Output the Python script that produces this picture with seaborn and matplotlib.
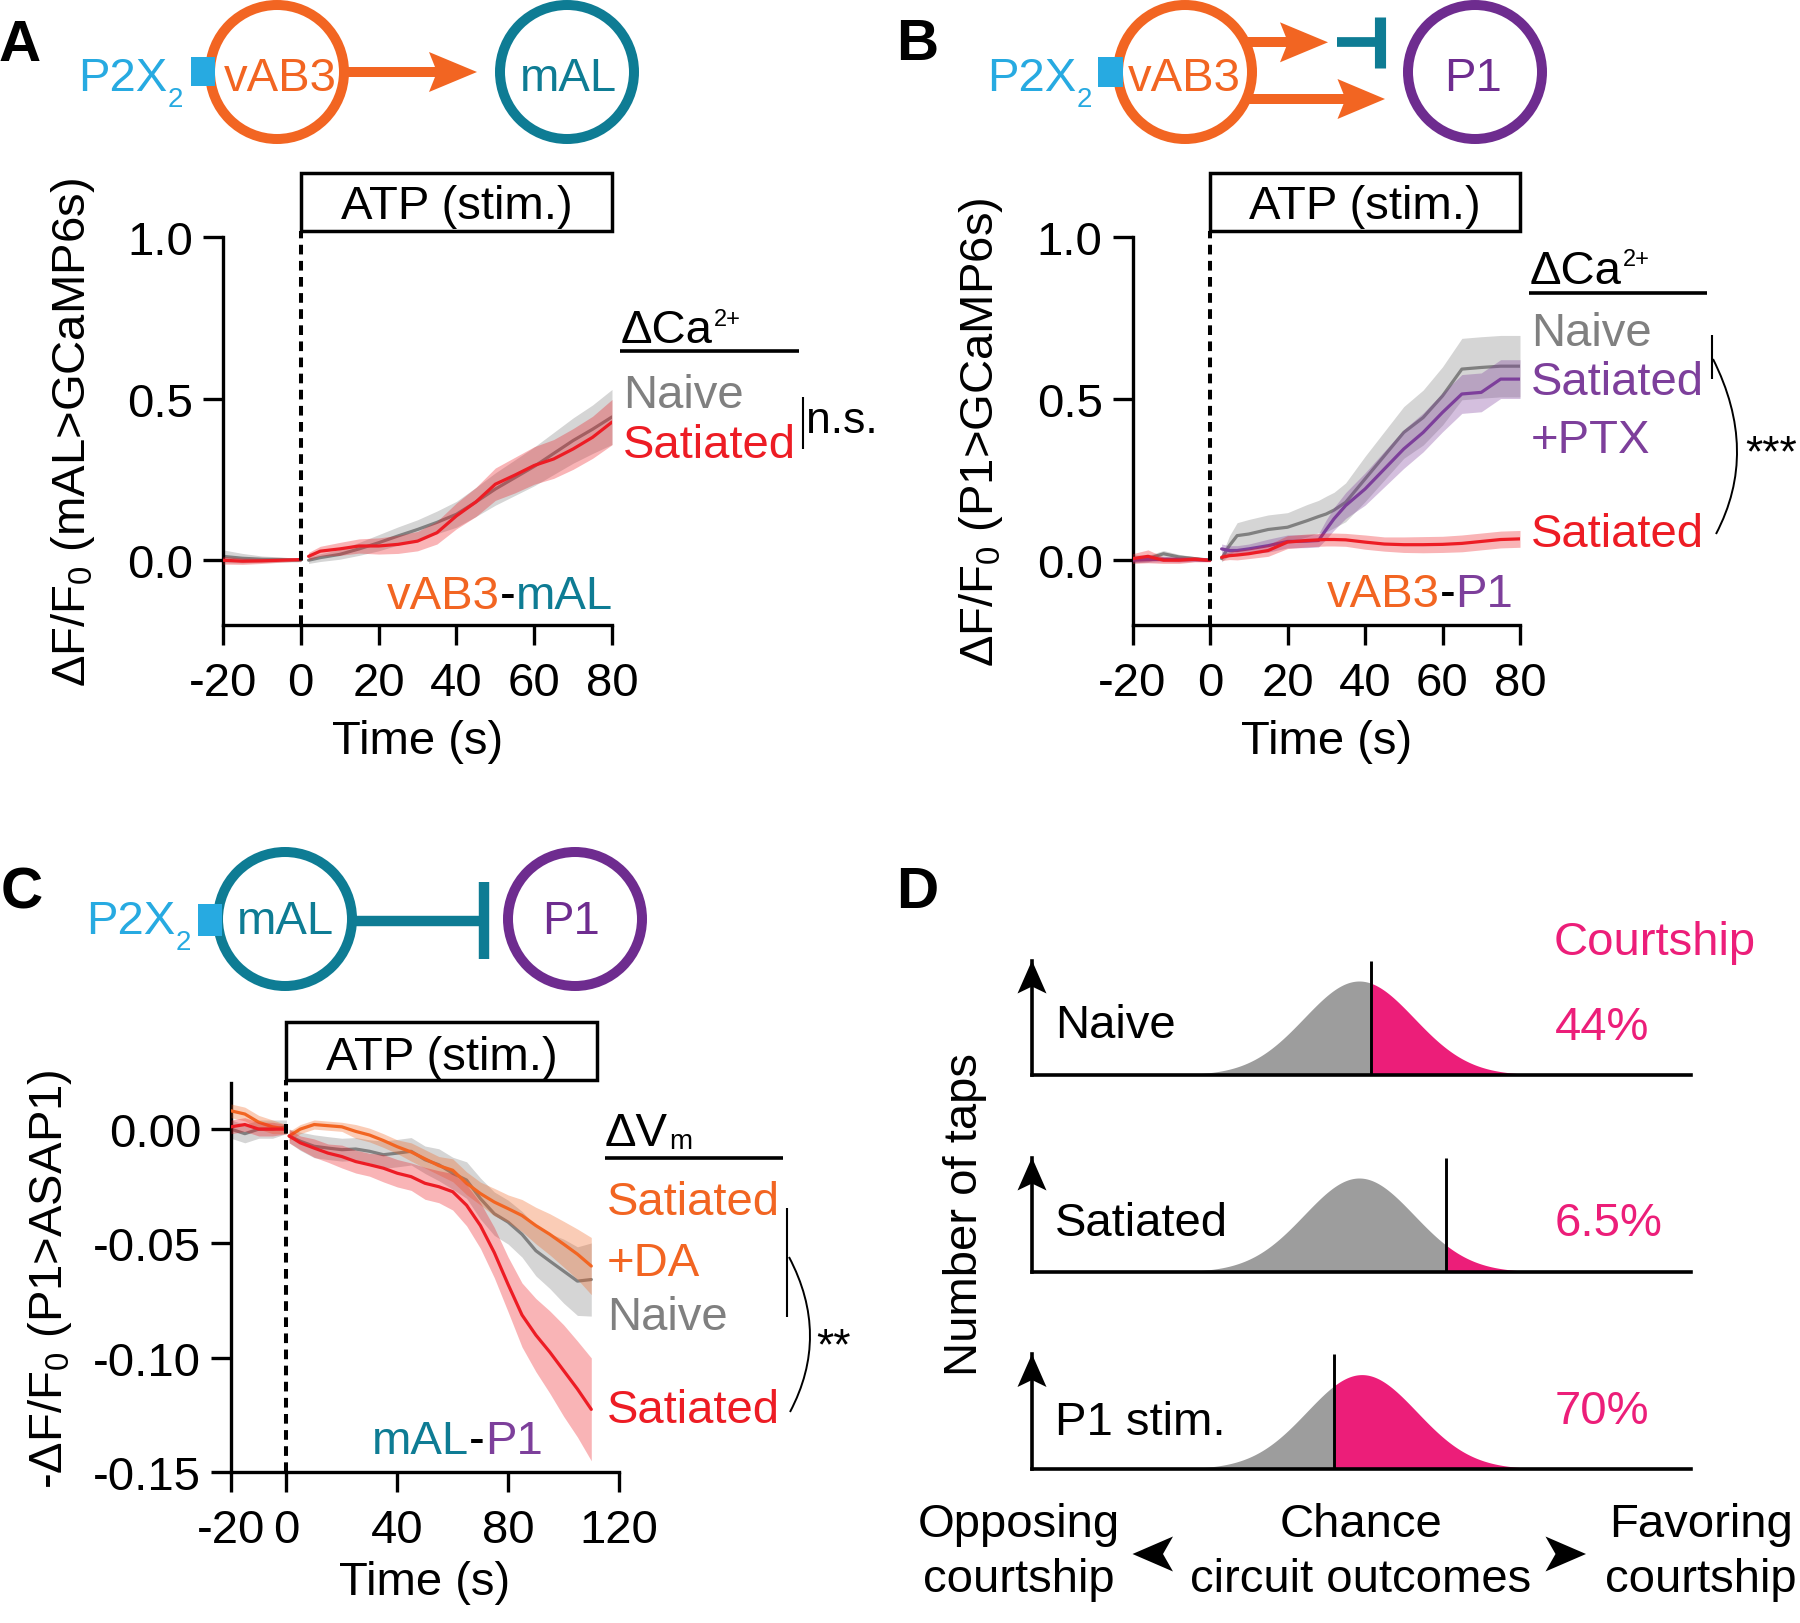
import numpy as np
import pandas as pd
import matplotlib
matplotlib.use("Agg")
import matplotlib.pyplot as plt
import seaborn as sns
from matplotlib.patches import Circle, Rectangle, Polygon, PathPatch
from matplotlib.path import Path

# ---------------------------------------------------------------- data
# Panel A : vAB3 -> mAL  (dF/F0, mAL>GCaMP6s)
tA_pre = [-20, -15, -10, -5, 0]
tA_post = [2, 5, 10, 15, 20, 25, 30, 35, 40, 45, 50, 55, 60, 65, 70, 75, 80]
A_naive_pre = [0.012, 0.006, 0.003, 0.002, 0.0]
A_naive_pre_sem = [0.02, 0.015, 0.01, 0.008, 0.005]
A_sat_pre = [0.0, -0.003, -0.002, 0.0, 0.002]
A_sat_pre_sem = [0.012, 0.01, 0.008, 0.006, 0.004]
A_naive_post = [0.0, 0.008, 0.018, 0.035, 0.054, 0.075, 0.095, 0.117, 0.142, 0.18,
                0.22, 0.255, 0.29, 0.33, 0.37, 0.405, 0.443]
A_naive_post_sem = [0.01, 0.012, 0.015, 0.02, 0.025, 0.028, 0.03, 0.035, 0.04, 0.045,
                    0.05, 0.055, 0.06, 0.065, 0.07, 0.075, 0.085]
A_sat_post = [0.012, 0.028, 0.035, 0.044, 0.044, 0.049, 0.059, 0.085, 0.137, 0.18,
              0.235, 0.263, 0.293, 0.313, 0.344, 0.38, 0.427]
A_sat_post_sem = [0.012, 0.015, 0.02, 0.022, 0.025, 0.028, 0.03, 0.035, 0.04, 0.045,
                  0.05, 0.055, 0.058, 0.06, 0.063, 0.065, 0.07]

# Panel B : vAB3 -> P1  (dF/F0, P1>GCaMP6s)
tB_pre = [-20, -16, -12, -8, -4, 0]
tB_post = [3, 5, 7, 10, 15, 20, 25, 28, 30, 32, 35, 40, 45, 50, 55, 60, 65, 70, 75, 80]
B_naive_pre = [0.005, 0.005, 0.02, 0.01, 0.005, 0.0]
B_naive_pre_sem = [0.012, 0.01, 0.01, 0.008, 0.006, 0.004]
B_ptx_pre = [0.0, 0.002, 0.003, 0.002, 0.002, 0.0]
B_ptx_pre_sem = [0.008, 0.008, 0.008, 0.008, 0.006, 0.004]
B_sat_pre = [0.005, 0.012, 0.0, 0.0, 0.003, 0.0]
B_sat_pre_sem = [0.015, 0.02, 0.01, 0.01, 0.008, 0.005]
B_naive_post = [0.005, 0.045, 0.076, 0.081, 0.095, 0.102, 0.122, 0.135, 0.143, 0.155,
                0.179, 0.251, 0.323, 0.395, 0.441, 0.508, 0.591, 0.596, 0.600, 0.600]
B_naive_post_sem = [0.01, 0.03, 0.04, 0.045, 0.045, 0.045, 0.05, 0.05, 0.055, 0.055,
                    0.06, 0.07, 0.075, 0.08, 0.085, 0.09, 0.095, 0.095, 0.095, 0.095]
B_ptx_post = [0.035, 0.03, 0.03, 0.035, 0.045, 0.058, 0.059, 0.061, 0.095, 0.128,
              0.169, 0.22, 0.282, 0.344, 0.395, 0.457, 0.514, 0.519, 0.56, 0.56]
B_ptx_post_sem = [0.015, 0.015, 0.015, 0.015, 0.02, 0.02, 0.02, 0.02, 0.03, 0.035,
                  0.04, 0.05, 0.055, 0.06, 0.06, 0.06, 0.06, 0.06, 0.06, 0.06]
B_sat_post = [0.009, 0.014, 0.016, 0.02, 0.03, 0.056, 0.061, 0.063, 0.064, 0.064,
              0.063, 0.056, 0.05, 0.048, 0.048, 0.049, 0.052, 0.058, 0.064, 0.066]
B_sat_post_sem = [0.01, 0.012, 0.015, 0.015, 0.018, 0.02, 0.02, 0.02, 0.02, 0.02,
                  0.02, 0.022, 0.022, 0.024, 0.025, 0.025, 0.026, 0.026, 0.026, 0.026]

# Panel C : mAL -> P1  (-dF/F0, P1>ASAP1)
tC_pre = [-20, -15, -10, -5, 0]
tC_post = [1, 5, 10, 15, 20, 25, 30, 35, 40, 45, 50, 55, 60, 65, 70, 75, 80, 85, 90,
           95, 100, 105, 110]
C_da_pre = [0.008, 0.0066, 0.003, 0.001, 0.0]
C_da_pre_sem = [0.003, 0.003, 0.003, 0.003, 0.002]
C_naive_pre = [0.0, -0.002, 0.0, 0.0, 0.001]
C_naive_pre_sem = [0.004, 0.004, 0.004, 0.004, 0.003]
C_sat_pre = [0.001, 0.002, 0.0, 0.0, 0.0]
C_sat_pre_sem = [0.003, 0.003, 0.003, 0.003, 0.002]
C_da_post = [-0.003, 0.0, 0.002, 0.0015, 0.001, -0.001, -0.0026, -0.005, -0.0077, -0.01,
             -0.013, -0.016, -0.018, -0.0237, -0.0282, -0.0319, -0.0348, -0.0378,
             -0.0422, -0.046, -0.0503, -0.0547, -0.0599]
C_da_post_sem = [0.002, 0.002, 0.002, 0.002, 0.002, 0.003, 0.003, 0.003, 0.003, 0.004,
                 0.004, 0.004, 0.005, 0.005, 0.005, 0.006, 0.006, 0.007, 0.008, 0.009,
                 0.010, 0.011, 0.0125]
C_naive_post = [-0.003, -0.0053, -0.0075, -0.0083, -0.009, -0.0087, -0.0097, -0.0112,
                -0.0105, -0.0097, -0.0134, -0.0156, -0.0193, -0.0223, -0.0304, -0.037,
                -0.0407, -0.046, -0.0532, -0.0577, -0.0621, -0.0665, -0.0658]
C_naive_post_sem = [0.003, 0.004, 0.005, 0.005, 0.005, 0.005, 0.005, 0.006, 0.006, 0.006,
                    0.006, 0.007, 0.007, 0.008, 0.009, 0.0095, 0.0096, 0.010, 0.011,
                    0.012, 0.014, 0.015, 0.016]
C_sat_post = [-0.003, -0.006, -0.0083, -0.0105, -0.012, -0.0142, -0.0156, -0.0171,
              -0.0193, -0.0208, -0.0237, -0.0252, -0.0274, -0.0333, -0.0422, -0.054,
              -0.068, -0.0813, -0.0901, -0.0975, -0.1056, -0.1137, -0.1226]
C_sat_post_sem = [0.003, 0.003, 0.004, 0.004, 0.005, 0.005, 0.005, 0.006, 0.006, 0.006,
                  0.007, 0.007, 0.008, 0.009, 0.010, 0.011, 0.012, 0.014, 0.016, 0.018,
                  0.020, 0.021, 0.0225]

# ATP stimulation windows (s)
stim_AB = [0, 80]
stim_C = [0, 112]

# Panel D : schematic outcome distributions
D_conditions = ["Naive", "Satiated", "P1 stim."]
D_courtship = ["44%", "6.5%", "70%"]
D_mean = [0.0, 0.0, 0.05]
D_sd = [1.0, 1.0, 1.0]
D_threshold = [0.22, 1.59, -0.45]
D_xrange = [-5.95, 6.04]

# tick labels
AB_yticks = [0.0, 0.5, 1.0]
AB_yticklabels = ["0.0", "0.5", "1.0"]
AB_xticks = [-20, 0, 20, 40, 60, 80]
C_yticks = [0.0, -0.05, -0.10, -0.15]
C_yticklabels = ["0.00", "-0.05", "-0.10", "-0.15"]
C_xticks = [-20, 0, 40, 80, 120]

# ---------------------------------------------------------------- style
sns.set_theme(style="ticks")
plt.rcParams["font.family"] = ["Liberation Sans", "DejaVu Sans"]
plt.rcParams.update({
    "mathtext.fontset": "custom",
    "mathtext.rm": "Liberation Sans",
    "mathtext.it": "Liberation Sans",
    "mathtext.default": "regular",
    "axes.unicode_minus": False,
    "axes.edgecolor": "black",
    "xtick.color": "black",
    "ytick.color": "black",
    "text.color": "black",
    "axes.labelcolor": "black",
})

ORANGE = "#F26522"
TEAL = "#0E7C94"
BLUE = "#27AAE1"
PURPLE = "#6E2C8F"
PURPLE_L = "#7D3F9B"
RED = "#ED1C24"
GRAY = "#808080"
PINK = "#EC1E79"
DGRAY = "#9D9D9D"

W, H = 1800, 1624
fig = plt.figure(figsize=(W / 100, H / 100), dpi=100)


def add_ax_px(left, top, right, bottom):
    return fig.add_axes([left / W, 1 - bottom / H, (right - left) / W, (bottom - top) / H])


axA = add_ax_px(223, 237.8, 612, 625.9)
axB = add_ax_px(1132.5, 237.8, 1520, 625.9)
axC = add_ax_px(231, 1084.4, 619, 1473)
axD = [add_ax_px(1032, 961.5, 1691, 1076),
       add_ax_px(1032, 1158.5, 1691, 1273),
       add_ax_px(1032, 1355, 1691, 1470)]


def trace(ax, t, m, s, color, z):
    t = np.asarray(t, float)
    m = np.asarray(m, float)
    s = np.asarray(s, float)
    ax.fill_between(t, m - s, m + s, color=color, alpha=0.33, lw=0, zorder=z)
    sns.lineplot(x=t, y=m, ax=ax, color=color, lw=2.3, zorder=z + 0.5,
                 estimator=None, sort=False, legend=False)


def style_axis(ax, xlim, ylim, xticks, yticks, yticklabels):
    ax.set_xlim(xlim)
    ax.set_ylim(ylim)
    ax.set_xticks(xticks)
    ax.set_xticklabels([str(v) for v in xticks])
    ax.set_yticks(yticks)
    ax.set_yticklabels(yticklabels)
    sns.despine(ax=ax)
    for sp in ["left", "bottom"]:
        ax.spines[sp].set_linewidth(2.4)
        ax.spines[sp].set_color("black")
    ax.tick_params(axis="both", direction="out", length=14.5, width=2.4,
                   labelsize=34, colors="black")
    ax.tick_params(axis="x", pad=11.5)
    ax.tick_params(axis="y", pad=7)
    ax.set_facecolor("none")


def stim_box(ax, window, y0, y1, ybase, label_y):
    ax.add_patch(Rectangle((window[0], y0), window[1] - window[0], y1 - y0,
                           fill=False, ec="black", lw=2.5, clip_on=False, zorder=5))
    ax.plot([window[0], window[0]], [ybase, y0], color="black", lw=2.9,
            ls=(0, (2.4, 1.6)), clip_on=False, zorder=5)
    ax.text(np.mean(window), label_y, "ATP (stim.)", ha="center", va="baseline",
            fontsize=34, clip_on=False)


# ---- Panel A
trace(axA, tA_pre, A_naive_pre, A_naive_pre_sem, GRAY, 2)
trace(axA, tA_post, A_naive_post, A_naive_post_sem, GRAY, 2)
trace(axA, tA_pre, A_sat_pre, A_sat_pre_sem, RED, 3)
trace(axA, tA_post, A_sat_post, A_sat_post_sem, RED, 3)
style_axis(axA, (-20, 80), (-0.2, 1.0), AB_xticks, AB_yticks, AB_yticklabels)
stim_box(axA, stim_AB, 1.0185, 1.197, -0.2, 1.058)
axA.set_xlabel("Time (s)", fontsize=34, va="baseline")
axA.xaxis.set_label_coords(0.5, -0.330)
axA.set_ylabel(r"$ΔF/F_0$ (mAL>GCaMP6s)", fontsize=34, va="center")
axA.yaxis.set_label_coords(-0.386, 0.497)

# ---- Panel B
trace(axB, tB_pre, B_naive_pre, B_naive_pre_sem, GRAY, 2)
trace(axB, tB_post, B_naive_post, B_naive_post_sem, GRAY, 2)
trace(axB, tB_pre, B_ptx_pre, B_ptx_pre_sem, PURPLE_L, 3)
trace(axB, tB_post, B_ptx_post, B_ptx_post_sem, PURPLE_L, 3)
trace(axB, tB_pre, B_sat_pre, B_sat_pre_sem, RED, 4)
trace(axB, tB_post, B_sat_post, B_sat_post_sem, RED, 4)
style_axis(axB, (-20, 80), (-0.2, 1.0), AB_xticks, AB_yticks, AB_yticklabels)
stim_box(axB, stim_AB, 1.0185, 1.197, -0.2, 1.058)
axB.set_xlabel("Time (s)", fontsize=34, va="baseline")
axB.xaxis.set_label_coords(0.5, -0.330)
axB.set_ylabel(r"$ΔF/F_0$ (P1>GCaMP6s)", fontsize=34, va="center")
axB.yaxis.set_label_coords(-0.39, 0.50)

# ---- Panel C
trace(axC, tC_pre, C_naive_pre, C_naive_pre_sem, GRAY, 2)
trace(axC, tC_post, C_naive_post, C_naive_post_sem, GRAY, 2)
trace(axC, tC_pre, C_da_pre, C_da_pre_sem, ORANGE, 3)
trace(axC, tC_post, C_da_post, C_da_post_sem, ORANGE, 3)
trace(axC, tC_pre, C_sat_pre, C_sat_pre_sem, RED, 4)
trace(axC, tC_post, C_sat_post, C_sat_post_sem, RED, 4)
style_axis(axC, (-20, 120), (-0.15, 0.02), C_xticks, C_yticks, C_yticklabels)
stim_box(axC, stim_C, 0.0214, 0.0468, -0.15, 0.0262)
axC.set_xlabel("Time (s)", fontsize=34, va="baseline")
axC.xaxis.set_label_coords(0.5, -0.314)
axC.set_ylabel(r"-$ΔF/F_0$ (P1>ASAP1)", fontsize=34, va="center")
axC.yaxis.set_label_coords(-0.466, 0.499)

# ---- Panel D
YTOP = 0.486
for ax, mu, sd, thr in zip(axD, D_mean, D_sd, D_threshold):
    x = np.linspace(D_xrange[0], D_xrange[1], 800)
    pdf = np.exp(-0.5 * ((x - mu) / sd) ** 2) / (sd * np.sqrt(2 * np.pi))
    ax.fill_between(x, 0, pdf, where=x <= thr, color=DGRAY, lw=0, interpolate=True)
    ax.fill_between(x, 0, pdf, where=x >= thr, color=PINK, lw=0, interpolate=True)
    ax.vlines(thr, 0, YTOP, color="black", lw=2.1)
    ax.set_xlim(D_xrange)
    ax.set_ylim(0, YTOP)
    ax.set_xticks([])
    ax.set_yticks([])
    sns.despine(ax=ax)
    for sp in ["left", "bottom"]:
        ax.spines[sp].set_linewidth(2.6)
        ax.spines[sp].set_color("black")
        ax.spines[sp].set_zorder(5)
    ax.set_facecolor("none")

# ---------------------------------------------------------------- overlay
ov = fig.add_axes([0, 0, 1, 1], zorder=10)
ov.set_xlim(0, W)
ov.set_ylim(H, 0)
ov.axis("off")
ov.patch.set_visible(False)
renderer = fig.canvas.get_renderer()


def txt(x, y, s, color="black", size=34, ha="left", va="baseline", **kw):
    return ov.text(x, y, s, color=color, fontsize=size, ha=ha, va=va, **kw)


def width(t):
    return t.get_window_extent(renderer).width


def seg_text_right(x_right, y, parts, size=34):
    objs = [txt(0, y, s, c, size) for s, c in parts]
    ws = [width(o) for o in objs]
    x = x_right - sum(ws)
    for o, w_ in zip(objs, ws):
        o.set_x(x)
        x += w_


def p2x(x, y):
    t = txt(x, y, "P2X", BLUE)
    txt(x + width(t), y + 16, "2", BLUE, size=20)


def ring(cx, cy, color):
    ov.add_patch(Circle((cx, cy), 67, fill=False, ec=color, lw=7.2))


def arrowhead(tx, ty, dx, dy, L, Wd, notch, color):
    px, py = -dy, dx
    bx, by = tx - dx * L, ty - dy * L
    pts = [(tx, ty), (bx + px * Wd, by + py * Wd),
           (tx - dx * (L - notch), ty - dy * (L - notch)), (bx - px * Wd, by - py * Wd)]
    ov.add_patch(Polygon(pts, closed=True, fc=color, ec="none"))


def hline(x0, x1, y, color, lw):
    ov.plot([x0, x1], [y, y], color=color, lw=lw, solid_capstyle="butt")


def vline(x, y0, y1, color, lw):
    ov.plot([x, x], [y0, y1], color=color, lw=lw, solid_capstyle="butt")


def bracket(p0, p1, p2):
    path = Path([p0, p1, p2], [Path.MOVETO, Path.CURVE3, Path.CURVE3])
    ov.add_patch(PathPatch(path, fill=False, lw=1.4, ec="black"))


def delta_head(x, y, main, sup=None, sub=None):
    t = txt(x, y, main)
    w_ = width(t)
    if sup:
        txt(x + w_ + 1, y - 17, sup, size=17)
    if sub:
        txt(x + w_ + 1, y + 3, sub, size=20)


# panel letters
for lbl, x, y in [("A", -1, 61), ("B", 896, 60), ("C", 1, 909), ("D", 896, 908)]:
    txt(x, y, lbl, size=42, fontweight="bold")

# ---- circuit A
ring(277, 73, ORANGE)
ring(567, 73, TEAL)
hline(344, 437, 73, ORANGE, 7.2)
arrowhead(477, 73, 1, 0, 48, 20, 8, ORANGE)
ov.add_patch(Rectangle((191, 58), 24, 29, fc=BLUE, ec="none"))
p2x(78, 90.7)
txt(280, 90.7, "vAB3", ORANGE, ha="center")
txt(568, 90.7, "mAL", TEAL, ha="center")

# ---- circuit B
ring(1185, 73, ORANGE)
ring(1475, 73, PURPLE)
hline(1245, 1290, 43.3, ORANGE, 7.2)
arrowhead(1328, 43.3, 1, 0, 48, 20, 8, ORANGE)
hline(1337, 1380, 43.3, TEAL, 7.0)
vline(1379.5, 18, 69, TEAL, 8.0)
hline(1246, 1346, 100, ORANGE, 7.2)
arrowhead(1385, 100, 1, 0, 47.5, 20, 8, ORANGE)
ov.add_patch(Rectangle((1098, 58), 25, 30, fc=BLUE, ec="none"))
p2x(987, 90.7)
txt(1184, 90.7, "vAB3", ORANGE, ha="center")
txt(1473, 90.7, "P1", PURPLE, ha="center")

# ---- circuit C
ring(285, 920, TEAL)
ring(575, 920, PURPLE)
hline(352, 484, 921.7, TEAL, 7.5)
vline(484, 882.7, 960, TEAL, 7.5)
ov.add_patch(Rectangle((198, 905), 24, 32, fc=BLUE, ec="none"))
p2x(86, 934.3)
txt(285, 934.3, "mAL", TEAL, ha="center")
txt(571, 934.3, "P1", PURPLE, ha="center")

# ---- legend A
delta_head(621, 343, "ΔCa", sup="2+")
hline(620, 799, 352, "black", 2.6)
txt(623, 408, "Naive", GRAY)
txt(623, 457.7, "Satiated", RED)
vline(802.5, 398, 450, "black", 1.5)
txt(806, 433, "n.s.", size=32)
seg_text_right(613, 609.5, [("vAB3", ORANGE), ("-", "black"), ("mAL", TEAL)])

# ---- legend B
delta_head(1530, 283.5, "ΔCa", sup="2+")
hline(1529, 1707, 294, "black", 2.6)
txt(1531, 346.5, "Naive", GRAY)
txt(1531, 395, "Satiated", PURPLE_L)
txt(1531, 453, "+PTX", PURPLE_L)
txt(1531, 547.5, "Satiated", RED)
vline(1711.5, 336, 380, "black", 1.5)
bracket((1713, 360), (1759.5, 452.5), (1716, 535))
txt(1745, 466.5, "***", size=32)
seg_text_right(1513, 607, [("vAB3", ORANGE), ("-", "black"), ("P1", PURPLE_L)])

# ---- legend C
delta_head(605, 1146, "ΔV", sub="m")
hline(605, 783, 1159, "black", 2.6)
txt(607, 1215, "Satiated", ORANGE)
txt(607, 1276, "+DA", ORANGE)
txt(607, 1330, "Naive", GRAY)
txt(607, 1423, "Satiated", RED)
vline(786.5, 1209, 1318, "black", 1.5)
bracket((789, 1258), (830.5, 1336.5), (790, 1413))
txt(816, 1359.5, "**", size=32)
seg_text_right(542.5, 1454, [("mAL", TEAL), ("-", "black"), ("P1", PURPLE_L)])

# ---- panel D annotations
txt(1554, 955, "Courtship", PINK)
row_baselines = [(1038.5, 1040), (1236.5, 1236.5), (1435, 1424)]
for ax, cond, pct, (yb1, yb2) in zip(axD, D_conditions, D_courtship, row_baselines):
    pos = ax.get_position()
    x0 = pos.x0 * W
    ytop = (1 - pos.y1) * H
    arrowhead(x0, ytop, 0, -1, 33, 14.5, 7, "black")
    txt(1055, yb1, cond)
    txt(1554.5, yb2, pct, PINK)

txt(965, 1215, "Number of taps", ha="center", va="center", rotation=90)
txt(1019, 1537.5, "Opposing", ha="center")
txt(1019, 1592, "courtship", ha="center")
txt(1361, 1537.5, "Chance", ha="center")
txt(1361, 1592, "circuit outcomes", ha="center")
txt(1701, 1537.5, "Favoring", ha="center")
txt(1701, 1592, "courtship", ha="center")
arrowhead(1132.5, 1555, -1, 0, 40.5, 17.5, 10, "black")
arrowhead(1586, 1555, 1, 0, 40.5, 17.5, 10, "black")

fig.savefig("out.png", dpi=100)
